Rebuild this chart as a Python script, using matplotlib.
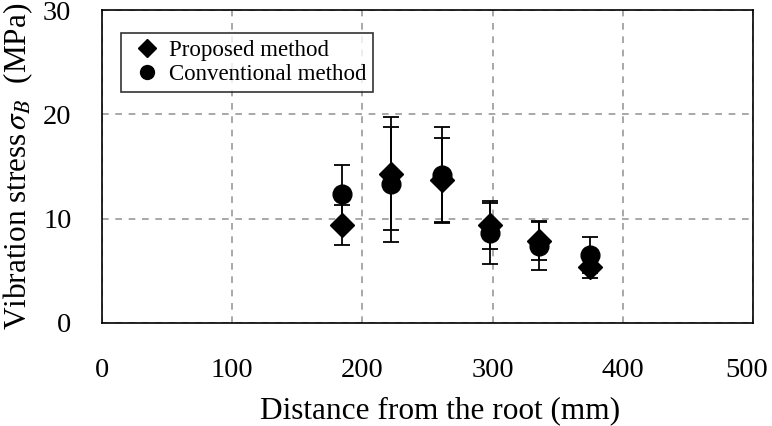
import matplotlib.pyplot as plt
from matplotlib.lines import Line2D
from matplotlib.transforms import ScaledTranslation

plt.rcParams['font.family'] = ['Liberation Serif', 'DejaVu Serif']
plt.rcParams['mathtext.fontset'] = 'stix'

# distance from the root (mm)
distance = [184, 222, 261, 298, 336, 375]

proposed = [9.4, 14.3, 13.7, 9.4, 7.9, 5.4]
proposed_err = [1.9, 5.4, 4.0, 2.3, 1.85, 1.1]

conventional = [12.4, 13.3, 14.2, 8.6, 7.4, 6.5]
conventional_err = [2.7, 5.5, 4.6, 2.9, 2.3, 1.7]

fig = plt.figure(figsize=(7.72, 4.26), dpi=100)
ax = fig.add_axes([102 / 772, 1 - 323 / 426, 651 / 772, 313 / 426])

ax.errorbar(distance, proposed, yerr=proposed_err, fmt='D', color='black',
            ms=12.5, elinewidth=1.3, capsize=6, capthick=1.3, zorder=3)
ax.errorbar(distance, conventional, yerr=conventional_err, fmt='o', color='black',
            ms=13.5, elinewidth=1.3, capsize=6, capthick=1.3, zorder=3)

ax.set_xlim(0, 500)
ax.set_ylim(0, 30)
ax.set_xticks([0, 100, 200, 300, 400, 500])
ax.set_yticks([0, 10, 20, 30])
ax.tick_params(length=0, labelsize=20.5)
ax.tick_params(axis='x', pad=25)
ax.tick_params(axis='y', pad=22)
ax.grid(True, color='#999999', linestyle=(0, (4, 4)), linewidth=1.2)
for s in ax.spines.values():
    s.set_linewidth(1.2)

# keep the last x label inside the figure
lab = ax.get_xticklabels()[-1]
lab.set_transform(lab.get_transform() + ScaledTranslation(-6 / 100, 0, fig.dpi_scale_trans))

ax.set_xlabel('Distance from the root (mm)', fontsize=22.5)
ax.xaxis.set_label_coords(0.52, -0.235)
ax.set_ylabel(r'Vibration stress$\,\sigma_B$  (MPa)', fontsize=22.5, labelpad=6)

handles = [
    Line2D([], [], marker='D', color='black', linestyle='none', ms=9),
    Line2D([], [], marker='o', color='black', linestyle='none', ms=10),
]
leg = ax.legend(handles, ['Proposed method', 'Conventional method'],
                loc='upper left', bbox_to_anchor=(0.029, 0.925), fontsize=16.5,
                frameon=True, fancybox=False, edgecolor='black',
                handlelength=1.7, handletextpad=0.1, borderpad=0.3,
                labelspacing=0.12, borderaxespad=0)
leg.get_frame().set_linewidth(1.2)

fig.savefig('out.png', dpi=100)
